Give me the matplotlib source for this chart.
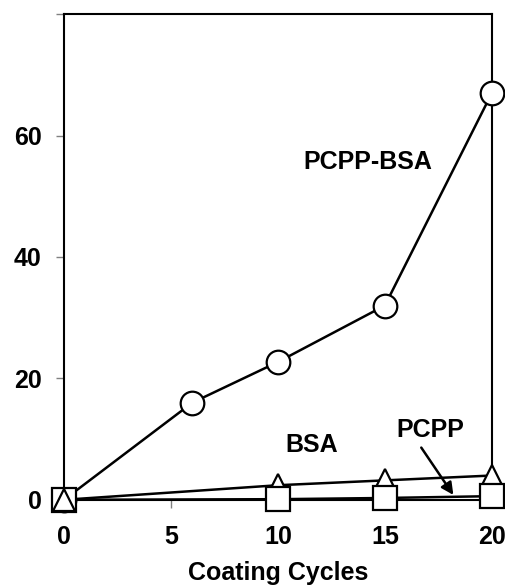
import matplotlib
matplotlib.use("Agg")
import matplotlib.pyplot as plt

plt.rcParams['font.family'] = ['Liberation Sans', 'DejaVu Sans']
plt.rcParams['font.weight'] = 'bold'

cycles_pb = [0, 6, 10, 15, 20]
pcpp_bsa = [0, 16.0, 22.7, 32.0, 67.0]
cycles = [0, 10, 15, 20]
bsa = [0, 2.4, 3.2, 4.0]
pcpp = [0, 0.1, 0.3, 0.6]
xticks = [0, 5, 10, 15, 20]
yticks = [0, 20, 40, 60, 80]
ytick_labels = ['0', '20', '40', '60', '']

fig = plt.figure(figsize=(5.05, 5.88), dpi=100)
ax = fig.add_axes([0.1267, 0.150, 0.8473, 0.826])

mk = dict(markerfacecolor='white', markeredgecolor='black', markeredgewidth=1.6,
          color='black', linewidth=1.8, clip_on=False)
ax.plot(cycles_pb, pcpp_bsa, marker='o', markersize=17, zorder=3, **mk)
ax.plot(cycles, bsa, marker='^', markersize=16, zorder=4, **mk)
ax.plot(cycles, pcpp, marker='s', markersize=17, zorder=5, **mk)
ax.plot(cycles[:1], bsa[:1], marker='^', markersize=16, linestyle='none', zorder=6,
        markerfacecolor='white', markeredgecolor='black', markeredgewidth=1.6, clip_on=False)

ax.set_xlim(0, 20)
ax.set_ylim(0, 80)
ax.set_xticks(xticks)
ax.set_yticks(yticks)
ax.set_yticklabels(ytick_labels)
ax.tick_params(axis='both', labelsize=18, color='gray', length=6, width=1)
ax.tick_params(axis='x', pad=12)
ax.tick_params(axis='y', pad=10)
for s in ax.spines.values():
    s.set_linewidth(1.5)

ax.set_xlabel('Coating Cycles', fontsize=18, fontweight='bold', labelpad=9)

ax.text(14.2, 55.6, 'PCPP-BSA', fontsize=18, fontweight='bold', ha='center', va='center')
ax.text(11.6, 9.1, 'BSA', fontsize=18, fontweight='bold', ha='center', va='center')
ax.text(17.1, 11.5, 'PCPP', fontsize=18, fontweight='bold', ha='center', va='center')
ax.annotate('', xy=(18.2, 0.8), xytext=(16.7, 8.6),
            arrowprops=dict(arrowstyle='-|>', color='black', lw=1.8, mutation_scale=18,
                            shrinkA=0, shrinkB=0), zorder=7)

fig.savefig('out.png', dpi=100)
